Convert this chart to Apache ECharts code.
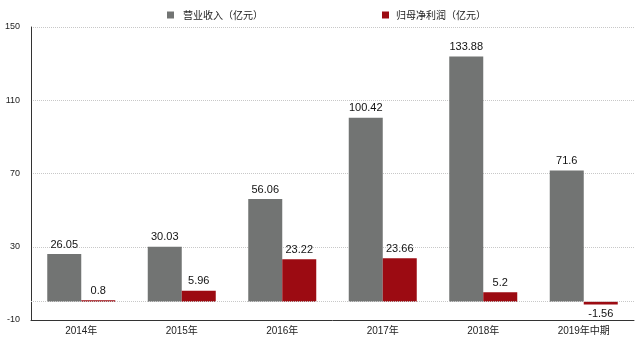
<!DOCTYPE html>
<html>
<head>
<meta charset="utf-8">
<script src="https://cdn.jsdelivr.net/npm/echarts@6/dist/echarts.min.js"></script>
<style>
html,body{margin:0;padding:0;background:#fff;}
#chart{width:640px;height:341px;}
</style>
</head>
<body>
<div id="chart"></div>
<script>
var categories = ['2014年', '2015年', '2016年', '2017年', '2018年', '2019年中期'];
var revenue = [26.05, 30.03, 56.06, 100.42, 133.88, 71.6];
var netProfit = [0.8, 5.96, 23.22, 23.66, 5.2, -1.56];
var seriesNames = ['营业收入（亿元）', '归母净利润（亿元）'];
var yTicks = { min: -10, max: 150, interval: 40 };

var FONT = '"Liberation Sans", Arial, "Noto Sans CJK SC", sans-serif';
var GRAY = '#727473';
var RED = '#9c0b12';

var chart = echarts.init(document.getElementById('chart'));

var profitData = netProfit.map(function (v) {
  if (v < 0) {
    return { value: v, label: { position: 'bottom' } };
  }
  return v;
});

chart.setOption({
  animation: false,
  textStyle: { fontFamily: FONT },
  legend: [
    {
      data: [seriesNames[0]],
      left: 162, top: 5,
      itemWidth: 7, itemHeight: 7,
      icon: 'rect',
      textStyle: { fontSize: 10, color: '#222', fontFamily: '"Noto Sans CJK SC", sans-serif', padding: [0, 0, 0, 4] }
    },
    {
      data: [seriesNames[1]],
      left: 377, top: 5,
      itemWidth: 7, itemHeight: 7,
      icon: 'rect',
      textStyle: { fontSize: 10, color: '#222', fontFamily: '"Noto Sans CJK SC", sans-serif', padding: [0, 0, 0, 2] }
    }
  ],
  grid: { left: 31, right: 6, top: 27, bottom: 21, containLabel: false },
  xAxis: {
    type: 'category',
    data: categories,
    axisTick: { show: false },
    axisLine: { show: true, onZero: false, lineStyle: { color: '#333', width: 1 } },
    axisLabel: { fontSize: 10, color: '#222', margin: 6, fontFamily: FONT }
  },
  yAxis: {
    type: 'value',
    min: yTicks.min, max: yTicks.max, interval: yTicks.interval,
    axisLine: { show: true, lineStyle: { color: '#333', width: 1 } },
    axisTick: { show: false },
    axisLabel: { fontSize: 9, color: '#222', margin: 11, fontFamily: FONT },
    splitLine: { show: true, lineStyle: { color: '#c8c8c8', type: 'dotted', width: 1 } }
  },
  series: [
    {
      name: seriesNames[0],
      type: 'bar',
      data: revenue,
      barWidth: 34,
      barGap: '0%',
      itemStyle: { color: GRAY },
      label: { show: true, position: 'top', fontSize: 11, color: '#111', distance: 4, fontFamily: FONT },
      markLine: {
        silent: true,
        symbol: 'none',
        label: { show: false },
        lineStyle: { color: '#c8c8c8', type: 'dotted', width: 1 },
        data: [{ yAxis: 0 }]
      }
    },
    {
      name: seriesNames[1],
      type: 'bar',
      data: profitData,
      barWidth: 34,
      barGap: '0%',
      itemStyle: { color: RED },
      label: { show: true, position: 'top', fontSize: 11, color: '#111', distance: 4, fontFamily: FONT }
    }
  ]
});
</script>
</body>
</html>
